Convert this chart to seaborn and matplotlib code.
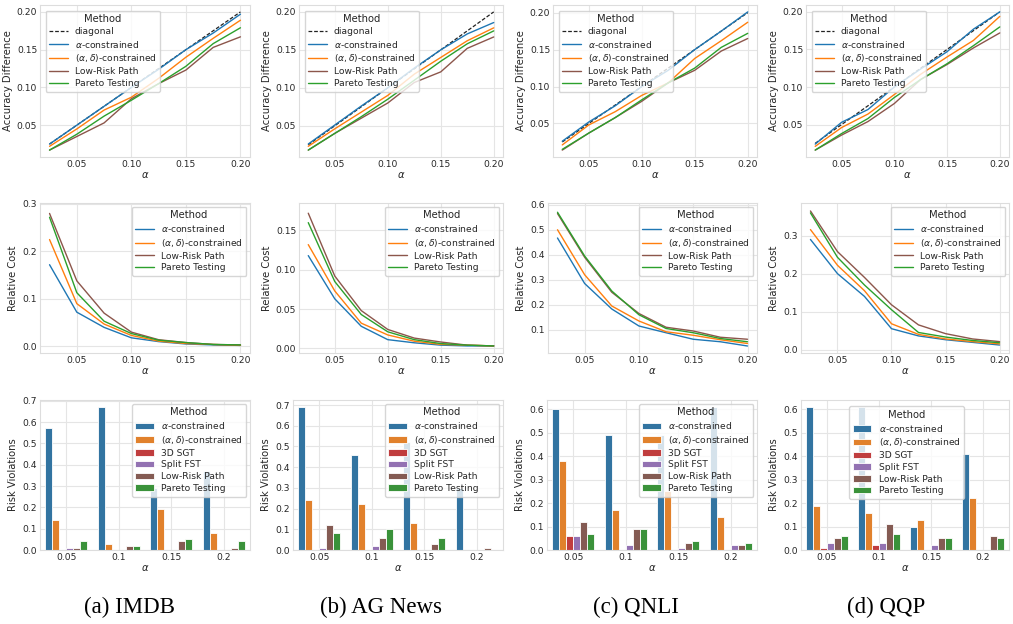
import numpy as np
import pandas as pd
import seaborn as sns
import matplotlib.pyplot as plt

sns.set_theme(style="whitegrid")
plt.rcParams['font.family'] = ['DejaVu Sans', 'Liberation Serif']
plt.rcParams['mathtext.fontset'] = 'dejavusans'

# ---------------- data ----------------
alphas = [0.025, 0.05, 0.075, 0.1, 0.125, 0.15, 0.175, 0.2]
bar_alphas = ["0.05", "0.1", "0.15", "0.2"]
captions = ["(a) IMDB", "(b) AG News", "(c) QNLI", "(d) QQP"]

line_methods = [r"$\alpha$-constrained", r"$(\alpha, \delta)$-constrained", "Low-Risk Path", "Pareto Testing"]
bar_methods = [r"$\alpha$-constrained", r"$(\alpha, \delta)$-constrained", "3D SGT", "Split FST", "Low-Risk Path", "Pareto Testing"]

# Accuracy difference (row 1): alpha, alpha-delta, low-risk path, pareto testing
imdb_acc = [[0.025, 0.050, 0.075, 0.100, 0.124, 0.150, 0.172, 0.197],
            [0.022, 0.045, 0.070, 0.087, 0.112, 0.140, 0.165, 0.189],
            [0.017, 0.035, 0.053, 0.085, 0.105, 0.123, 0.153, 0.167],
            [0.017, 0.038, 0.062, 0.083, 0.105, 0.128, 0.158, 0.179]]
ag_acc = [[0.026, 0.051, 0.076, 0.100, 0.126, 0.150, 0.171, 0.186],
          [0.023, 0.046, 0.068, 0.090, 0.118, 0.140, 0.162, 0.179],
          [0.018, 0.040, 0.060, 0.080, 0.107, 0.121, 0.152, 0.167],
          [0.018, 0.040, 0.062, 0.085, 0.110, 0.135, 0.158, 0.175]]
qnli_acc = [[0.026, 0.052, 0.074, 0.100, 0.122, 0.150, 0.175, 0.201],
            [0.021, 0.048, 0.066, 0.088, 0.105, 0.138, 0.162, 0.187],
            [0.014, 0.037, 0.058, 0.080, 0.105, 0.122, 0.148, 0.165],
            [0.015, 0.037, 0.058, 0.082, 0.105, 0.125, 0.153, 0.172]]
qqp_acc = [[0.024, 0.053, 0.070, 0.100, 0.124, 0.147, 0.177, 0.200],
           [0.021, 0.046, 0.064, 0.090, 0.117, 0.140, 0.162, 0.194],
           [0.016, 0.036, 0.054, 0.078, 0.110, 0.130, 0.152, 0.172],
           [0.016, 0.038, 0.058, 0.086, 0.110, 0.131, 0.155, 0.180]]

# Relative cost (row 2)
imdb_cost = [[0.172, 0.072, 0.040, 0.018, 0.010, 0.005, 0.003, 0.002],
             [0.225, 0.090, 0.047, 0.023, 0.011, 0.006, 0.004, 0.002],
             [0.280, 0.138, 0.070, 0.030, 0.014, 0.008, 0.004, 0.003],
             [0.272, 0.113, 0.053, 0.027, 0.013, 0.008, 0.004, 0.003]]
ag_cost = [[0.118, 0.063, 0.028, 0.011, 0.007, 0.004, 0.003, 0.003],
           [0.132, 0.073, 0.032, 0.017, 0.009, 0.005, 0.004, 0.003],
           [0.172, 0.092, 0.048, 0.024, 0.013, 0.008, 0.004, 0.003],
           [0.160, 0.085, 0.043, 0.021, 0.011, 0.006, 0.004, 0.003]]
qnli_cost = [[0.467, 0.285, 0.183, 0.115, 0.088, 0.062, 0.052, 0.035],
             [0.500, 0.320, 0.195, 0.135, 0.092, 0.078, 0.060, 0.045],
             [0.565, 0.390, 0.250, 0.165, 0.110, 0.095, 0.070, 0.062],
             [0.570, 0.395, 0.255, 0.160, 0.105, 0.088, 0.065, 0.052]]
qqp_cost = [[0.290, 0.200, 0.140, 0.055, 0.036, 0.026, 0.019, 0.012],
            [0.316, 0.222, 0.155, 0.068, 0.040, 0.028, 0.021, 0.015],
            [0.365, 0.258, 0.190, 0.118, 0.065, 0.042, 0.028, 0.021],
            [0.360, 0.243, 0.170, 0.105, 0.045, 0.033, 0.024, 0.018]]

# Risk violations (row 3): one list per method, over bar_alphas
imdb_viol = [[0.57, 0.67, 0.29, 0.37],
             [0.14, 0.03, 0.19, 0.08],
             [0.00, 0.00, 0.00, 0.00],
             [0.01, 0.00, 0.00, 0.00],
             [0.01, 0.02, 0.04, 0.01],
             [0.04, 0.02, 0.05, 0.04]]
ag_viol = [[0.69, 0.46, 0.52, 0.30],
           [0.24, 0.22, 0.13, 0.00],
           [0.00, 0.00, 0.00, 0.00],
           [0.01, 0.02, 0.00, 0.00],
           [0.12, 0.06, 0.03, 0.01],
           [0.08, 0.10, 0.06, 0.00]]
qnli_viol = [[0.60, 0.49, 0.49, 0.61],
             [0.38, 0.17, 0.25, 0.14],
             [0.06, 0.00, 0.00, 0.00],
             [0.06, 0.02, 0.01, 0.02],
             [0.12, 0.09, 0.03, 0.02],
             [0.07, 0.09, 0.04, 0.03]]
qqp_viol = [[0.61, 0.61, 0.10, 0.41],
            [0.19, 0.16, 0.13, 0.22],
            [0.01, 0.02, 0.00, 0.00],
            [0.03, 0.03, 0.02, 0.00],
            [0.05, 0.11, 0.05, 0.06],
            [0.06, 0.07, 0.05, 0.05]]

acc_all = [imdb_acc, ag_acc, qnli_acc, qqp_acc]
cost_all = [imdb_cost, ag_cost, qnli_cost, qqp_cost]
viol_all = [imdb_viol, ag_viol, qnli_viol, qqp_viol]

# axis ticks/limits for the relative-cost row
cost_yticks = [[0.0, 0.1, 0.2, 0.3], [0.0, 0.05, 0.10, 0.15],
               [0.1, 0.2, 0.3, 0.4, 0.5, 0.6], [0.0, 0.1, 0.2, 0.3]]
cost_ylims = [(-0.014, 0.302), (-0.006, 0.185), (0.007, 0.607), (-0.009, 0.386)]

tab = sns.color_palette("tab10")
line_colors = {line_methods[0]: tab[0], line_methods[1]: tab[1],
               line_methods[2]: tab[5], line_methods[3]: tab[2]}
bar_colors = {bar_methods[0]: tab[0], bar_methods[1]: tab[1], bar_methods[2]: tab[3],
              bar_methods[3]: tab[4], bar_methods[4]: tab[5], bar_methods[5]: tab[2]}

# ---------------- layout ----------------
W, H = 1013, 624
fig = plt.figure(figsize=(W / 100, H / 100), dpi=100)

col_right = [250, 503, 757, 1009]
lefts = [[40, 299, 553, 806],
         [40, 299, 548, 801],
         [40, 293, 547, 801]]
rows_tb = [(5, 157), (203, 353), (400, 550)]
cap_x = [129, 381, 636, 886]

TICK = 6.6
LAB = 7.2
LEG = 6.6
LEGT = 7.2

def make_ax(r, c):
    l = lefts[r][c]
    t, b = rows_tb[r]
    return fig.add_axes([l / W, 1 - b / H, (col_right[c] - l) / W, (b - t) / H])

def style(ax):
    ax.tick_params(labelsize=TICK, pad=2, length=0)
    for s in ax.spines.values():
        s.set_linewidth(0.8)
        s.set_color('#dddddd')
    ax.grid(True, color='#e5e5e5', linewidth=0.8)

qqp_bar_anchor = 0.21

for c in range(4):
    # row 1: accuracy difference
    ax = make_ax(0, c)
    sns.lineplot(x=alphas, y=alphas, color='#222222', linestyle=(0, (3, 1.5)), lw=0.9,
                 label='diagonal', ax=ax)
    for m, vals in zip(line_methods, acc_all[c]):
        sns.lineplot(x=alphas, y=vals, color=line_colors[m], lw=1.0, label=m, ax=ax)
    ax.set_xlabel(r'$\alpha$', fontsize=LAB, labelpad=1)
    ax.set_ylabel('Accuracy Difference', fontsize=LAB, labelpad=3)
    ax.set_xticks([0.05, 0.10, 0.15, 0.20])
    style(ax)
    ax.legend(title='Method', loc='upper left', fontsize=LEG, title_fontsize=LEGT,
              borderaxespad=0.6, handlelength=2.0, labelspacing=0.3)

    # row 2: relative cost
    ax = make_ax(1, c)
    for m, vals in zip(line_methods, cost_all[c]):
        sns.lineplot(x=alphas, y=vals, color=line_colors[m], lw=1.0, label=m, ax=ax)
    ax.set_xlabel(r'$\alpha$', fontsize=LAB, labelpad=1)
    ax.set_ylabel('Relative Cost', fontsize=LAB, labelpad=3)
    ax.set_xticks([0.05, 0.10, 0.15, 0.20])
    ax.set_yticks(cost_yticks[c])
    ax.set_ylim(*cost_ylims[c])
    style(ax)
    ax.legend(title='Method', loc='upper right', fontsize=LEG, title_fontsize=LEGT,
              borderaxespad=0.4, handlelength=2.0, labelspacing=0.3)

    # row 3: risk violations
    ax = make_ax(2, c)
    recs = []
    for m, vals in zip(bar_methods, viol_all[c]):
        for a, v in zip(bar_alphas, vals):
            recs.append({'alpha': a, 'val': v, 'Method': m})
    df = pd.DataFrame(recs)
    sns.barplot(data=df, x='alpha', y='val', hue='Method', order=bar_alphas,
                hue_order=bar_methods, palette=bar_colors, ax=ax, linewidth=0.6,
                edgecolor='white')
    ax.set_xlabel(r'$\alpha$', fontsize=LAB, labelpad=1)
    ax.set_ylabel('Risk Violations', fontsize=LAB, labelpad=3)
    style(ax)
    if c == 3:
        sns.move_legend(ax, 'upper left', bbox_to_anchor=(qqp_bar_anchor, 0.99),
                        fontsize=LEG, title_fontsize=LEGT, title='Method',
                        handlelength=2.0, labelspacing=0.3)
    else:
        sns.move_legend(ax, 'upper right', fontsize=LEG, title_fontsize=LEGT,
                        title='Method', borderaxespad=0.4, handlelength=2.0,
                        labelspacing=0.3)

    fig.text(cap_x[c] / W, 1 - 607 / H, captions[c], family='Liberation Serif',
             fontsize=16.5, ha='center', va='center', color='black')

fig.savefig('out.png', dpi=100)
